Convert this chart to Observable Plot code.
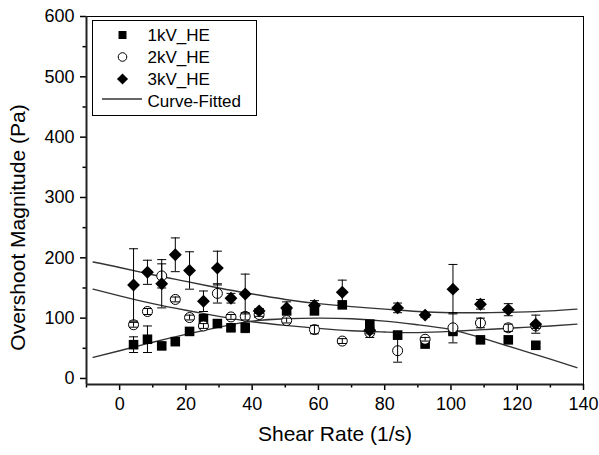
<!DOCTYPE html>
<html><head><meta charset="utf-8">
<script src="https://cdn.jsdelivr.net/npm/d3@7"></script>
<script src="https://cdn.jsdelivr.net/npm/@observablehq/plot@0.6"></script>
<style>
html,body{margin:0;padding:0;background:#fff;}
svg{display:block;}
</style>
</head><body><div id="chart"></div>
<script>
// ---- data ----
const shearRate = [4.2, 8.4, 12.7, 16.8, 21.1, 25.3, 29.5, 33.6, 37.9, 42.1, 50.4, 58.8, 67.2, 75.5, 83.9, 92.2, 100.6, 108.9, 117.3, 125.6];
const kV1 = [56, 65, 54, 61, 78, 98, 91, 84, 84, 108, 112, 112, 122, 90, 72, 57, 78, 64, 64, 55];
const kV1Err = [13, 22, 5, 3, 3, 8, 4, 4, 8, 4, 5, 6, 4, 6, 4, 3, 4, 3, 3, 3];
const kV2 = [89, 111, 170, 131, 101, 87, 141, 102, 103, 106, 96, 81, 62, 76, 46, 65, 84, 92, 84, 87];
const kV2Err = [4, 5, 20, 4, 4, 4, 16, 4, 6, 3, 4, 7, 4, 8, 19, 3, 25, 8, 6, 4];
const kV3 = [155, 176, 157, 205, 179, 128, 183, 133, 140, 112, 117, 121, 143, 80, 117, 105, 148, 123, 114, 90];
const kV3Err = [60, 20, 40, 28, 31, 17, 28, 8, 33, 4, 10, 8, 20, 6, 8, 4, 41, 8, 10, 15];

const fitX = [-8, 0, 10, 20, 30, 40, 50, 60, 70, 80, 90, 100, 110, 120, 130, 138];
const fit1kV = [35, 46, 60, 73, 85, 95, 99, 100, 99, 95, 89, 81, 66, 49, 32, 18];
const fit2kV = [148, 137, 124, 113, 103, 94, 88, 83, 79, 77, 76, 78, 81, 84, 87, 90];
const fit3kV = [193, 184, 172, 161, 150, 140, 131, 124, 119, 115, 111, 109, 109, 110, 112, 115];

const xMajor = [0, 20, 40, 60, 80, 100, 120, 140];
const xMinor = [-10, 10, 30, 50, 70, 90, 110, 130];
const yMajor = [0, 100, 200, 300, 400, 500, 600];
const yMinor = [50, 150, 250, 350, 450, 550];

const legendLabels = ["1kV_HE", "2kV_HE", "3kV_HE", "Curve-Fitted"];
const xTitle = "Shear Rate (1/s)";
const yTitle = "Overshoot Magnitude (Pa)";

// ---- build tables ----
const rows = (vals, errs) => shearRate.map((x, i) => ({x, y: vals[i], e: errs[i]}));
const d1 = rows(kV1, kV1Err), d2 = rows(kV2, kV2Err), d3s = rows(kV3, kV3Err);
const fits = [fit1kV, fit2kV, fit3kV].map(v => fitX.map((x, i) => ({x, y: v[i]})));

const cap = {draw(ctx) { ctx.moveTo(-4.5, 0); ctx.lineTo(4.5, 0); }};
const ink = "#000";

function errMarks(data) {
  return [
    Plot.ruleX(data, {x: "x", y1: d => d.y - d.e, y2: d => d.y + d.e, stroke: ink, strokeWidth: 1}),
    Plot.dot(data, {x: "x", y: d => d.y + d.e, symbol: cap, r: 3, stroke: ink, fill: "none", strokeWidth: 1}),
    Plot.dot(data, {x: "x", y: d => d.y - d.e, symbol: cap, r: 3, stroke: ink, fill: "none", strokeWidth: 1})
  ];
}

const plot = Plot.plot({
  width: 599,
  height: 455,
  marginLeft: 86,
  marginRight: 16,
  marginTop: 16,
  marginBottom: 71,
  style: {fontFamily: "'Liberation Sans', Arial, sans-serif", fontSize: "18px", color: "#000", background: "#fff"},
  x: {domain: [-10, 140]},
  y: {domain: [-10, 600]},
  marks: [
    Plot.frame({stroke: ink, strokeWidth: 1}),
    Plot.axisX({ticks: xMajor, tickSize: 6, tickPadding: 7, label: null, strokeWidth: 1.5, fontSize: 18}),
    Plot.axisX({ticks: xMinor, tickSize: 3.5, tickFormat: () => "", label: null, strokeWidth: 1.5}),
    Plot.axisY({ticks: yMajor, tickSize: 6, tickPadding: 6, label: null, strokeWidth: 1.5, fontSize: 18}),
    Plot.axisY({ticks: yMinor, tickSize: 3.5, tickFormat: () => "", label: null, strokeWidth: 1.5}),
    Plot.ruleX([-10], {strokeWidth: 2, stroke: "#222"}),
    Plot.ruleY([-10], {strokeWidth: 2, stroke: "#222"}),
    ...fits.map(f => Plot.line(f, {x: "x", y: "y", curve: "natural", stroke: "#333", strokeWidth: 1.4})),
    Plot.dot(d1, {x: "x", y: "y", symbol: "square", r: 5.4, fill: ink, stroke: "none"}),
    ...errMarks(d1),
    Plot.dot(d2, {x: "x", y: "y", symbol: "circle", r: 5, fill: "#fff", stroke: ink, strokeWidth: 1}),
    ...errMarks(d2),
    Plot.dot(d3s, {x: "x", y: "y", symbol: "diamond2", r: 5.8, fill: ink, stroke: "none"}),
    ...errMarks(d3s),
    Plot.text([xTitle], {frameAnchor: "bottom", dy: 56, fontSize: 21, fill: ink, textAnchor: "middle"}),
    Plot.text([yTitle], {frameAnchor: "left", dx: -68, dy: 27, rotate: -90, fontSize: 21, fill: ink, textAnchor: "middle"})
  ]
});

document.getElementById("chart").appendChild(plot);

// ---- legend box inside the plot ----
const svg = d3.select(plot);
const lg = svg.append("g").attr("font-family", "'Liberation Sans', Arial, sans-serif")
  .attr("font-size", 17).attr("text-anchor", "start");
lg.append("rect").attr("x", 92.5).attr("y", 20.5).attr("width", 164).attr("height", 95)
  .attr("fill", "#fff").attr("stroke", ink).attr("stroke-width", 1);
const rowY = [35, 57, 79, 101];
const syms = [
  {type: d3.symbolSquare, size: Math.PI * 4.5 * 4.5, fill: ink, stroke: "none"},
  {type: d3.symbolCircle, size: Math.PI * 4.3 * 4.3, fill: "#fff", stroke: ink},
  {type: d3.symbolDiamond2, size: Math.PI * 5 * 5, fill: ink, stroke: "none"}
];
legendLabels.forEach((lab, i) => {
  if (i < 3) {
    lg.append("path").attr("d", d3.symbol(syms[i].type, syms[i].size)())
      .attr("transform", `translate(122.5,${rowY[i]})`)
      .attr("fill", syms[i].fill).attr("stroke", syms[i].stroke).attr("stroke-width", 1);
  } else {
    lg.append("line").attr("x1", 102).attr("x2", 142).attr("y1", rowY[i] - 2).attr("y2", rowY[i] - 2)
      .attr("stroke", "#333").attr("stroke-width", 1.4);
  }
  lg.append("text").attr("x", 147.5).attr("y", rowY[i]).attr("dy", "0.35em")
    .attr("text-anchor", "start").attr("fill", ink).text(lab);
});
</script>
</body></html>
